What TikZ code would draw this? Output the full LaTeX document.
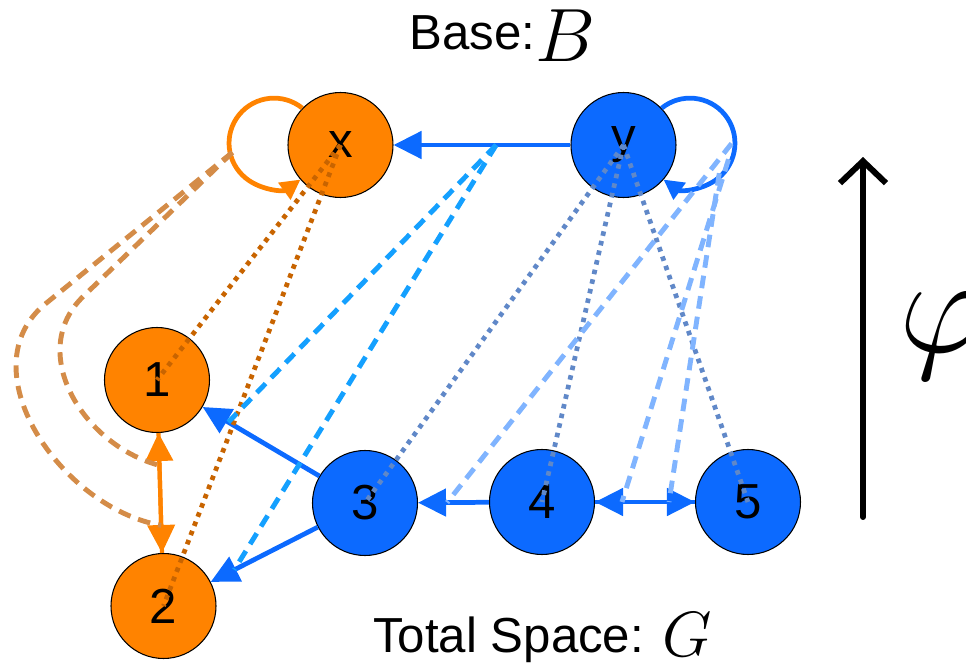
\documentclass[tikz,border=0pt]{standalone}
\usepackage{fix-cm}
\usepackage{fontspec}
\setmainfont{Liberation Sans}
\usetikzlibrary{arrows.meta}
\usepackage{amsmath}
\definecolor{nodeorange}{RGB}{255,131,0}
\definecolor{nodeblue}{RGB}{12,106,255}
\definecolor{skyblue}{RGB}{20,160,255}
\definecolor{paleblue}{RGB}{128,180,255}
\definecolor{greyblue}{RGB}{96,136,200}
\definecolor{rustorange}{RGB}{200,100,0}
\definecolor{tanbrown}{RGB}{212,140,72}

\begin{document}
\begin{tikzpicture}[font=\fontsize{14}{16}\selectfont]
\tikzset{vertex/.style = {circle, draw=black, line width=.3pt, minimum size=1.05cm, inner sep=0pt}}
\tikzset{edge/.style = {-{Triangle[length=.28cm, width=.27cm]}, line width=1.35pt}}
\tikzset{selfloop/.style = {-{Triangle[length=.2cm, width=.2cm]}, line width=1.35pt}}
\tikzset{fibre/.style = {line width=1.35pt, dash pattern=on 1.3pt off 1.5pt}}
\tikzset{lift/.style = {line width=1.4pt, dash pattern=on 3.6pt off 2.3pt}}

\useasboundingbox (0,0) rectangle (9.66,6.69);

% base graph
\node[vertex, fill=nodeorange] (bx) at (3.405,5.24) {x};
\node[vertex, fill=nodeblue] (by) at (6.235,5.24) {y};
\coordinate (xlc) at (2.744,5.255);
\coordinate (ylc) at (6.896,5.255);

% total space
\node[vertex, fill=nodeorange] (g1) at (1.57,2.89) {1};
\node[vertex, fill=nodeorange] (g2) at (1.635,0.63) {2};
\node[vertex, fill=nodeblue] (g3) at (3.65,1.66) {3};
\node[vertex, fill=nodeblue] (g4) at (5.42,1.67) {4};
\node[vertex, fill=nodeblue] (g5) at (7.48,1.67) {5};

\draw[edge, nodeblue] (by) -- coordinate[pos=.42] (yx) (bx);
\draw[selfloop, nodeorange] (bx.136) arc[start angle=51, end angle=306, radius=.45];
\draw[selfloop, nodeblue] (by.44) arc[start angle=129, end angle=-126, radius=.45];
\path (xlc) ++(192:.43) coordinate (xloop);

\draw[edge, nodeblue] (g3) -- coordinate[pos=.78] (e31) (g1);
\draw[edge, nodeblue] (g3) -- coordinate[pos=.78] (e32) (g2);
\draw[edge, nodeblue] (g4) -- coordinate[pos=.59] (e43) (g3);
\draw[edge, nodeblue] (g5) -- coordinate[pos=.73] (e54) (g4);
\draw[edge, nodeblue] (g4) -- coordinate[pos=.74] (e45) (g5);
\draw[edge, nodeorange, line width=1.2pt] (g1) -- coordinate[pos=.77] (e12) (g2);
\draw[edge, nodeorange, line width=1.2pt] (g2) -- coordinate[pos=.73] (e21) (g1);

% projection of vertices
\foreach \n in {g1, g2}
  {\draw[fibre, rustorange] (bx.center) -- (\n.center);}
\foreach \n in {g3, g4, g5}
  {\draw[fibre, greyblue] (by.center) -- (\n.center);}

% projection of edges
\draw[lift, tanbrown] (xloop) -- ++(219:2.4) to[out=219, in=170, looseness=1.05] (e12);
\draw[lift, tanbrown] (xloop) -- ++(224:2.07) to[out=224, in=165, looseness=1.1] (e21);
\foreach \e in {e31, e32}
  {\draw[lift, skyblue] (yx) -- (\e);}
\foreach \e/\a in {e43/0, e54/-22, e45/-45}
  {\draw[lift, paleblue] (ylc) ++(\a:.42) -- (\e);}

\node[anchor=base] (base) at (5.025,6.19) {Base:\raisebox{-.12cm}{\fontsize{21.5}{22}\selectfont$B$}};
\node[anchor=base] (total) at (5.425,0.16) {Total Space: \raisebox{-.04cm}{\fontsize{18.2}{19}\selectfont$G$}};

\coordinate (phibot) at (8.63,1.52);
\coordinate (phitop) at (8.63,5.12);
\draw[-{Straight Barb[length=.22cm, width=.46cm]}, line width=1.7pt, line cap=round] (phibot) -- (phitop);
\node[anchor=base west, inner sep=0pt, font=\fontsize{39.5}{40}\selectfont] (phi) at (8.99,3.16) {$\varphi$};

\end{tikzpicture}
\end{document}
